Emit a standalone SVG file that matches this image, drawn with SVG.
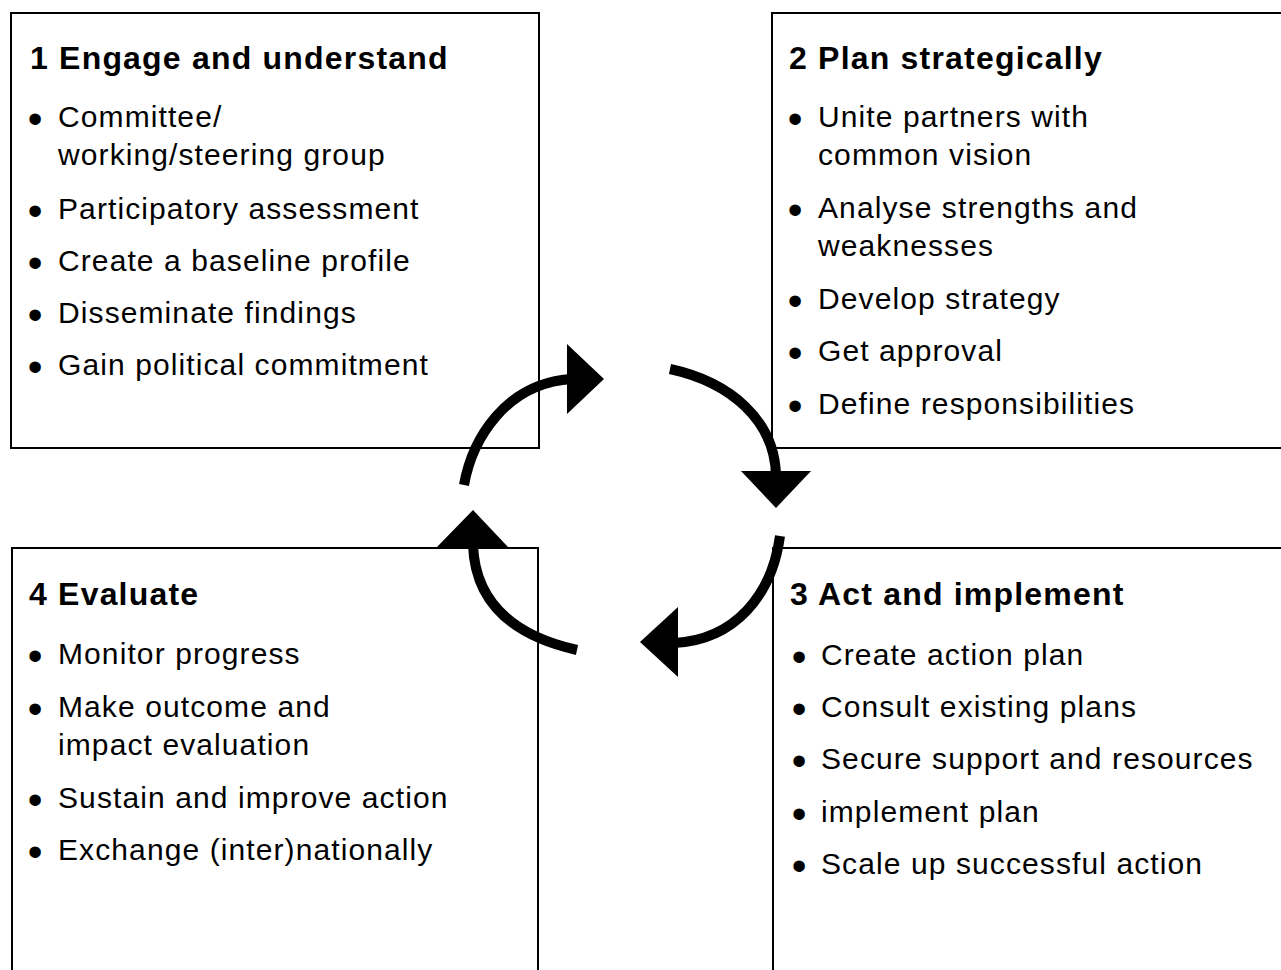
<svg xmlns="http://www.w3.org/2000/svg" width="1281" height="970" viewBox="0 0 1281 970">
  <style>
    .box { fill: #ffffff; stroke: #000000; stroke-width: 2; }
    .title { font-family: "Liberation Sans", Arial, sans-serif; font-weight: bold; font-size: 32px; letter-spacing: 1.2px; fill: #000000; }
    .item { font-family: "Liberation Sans", Arial, sans-serif; font-size: 30px; letter-spacing: 1.1px; fill: #000000; }
    .bul { font-family: "Liberation Sans", Arial, sans-serif; font-size: 42px; fill: #000000; text-anchor: middle; }
    .arc { fill: none; stroke: #000000; stroke-width: 10; stroke-linecap: butt; }
    .head { fill: #000000; stroke: none; }
  </style>

  <!-- Stage 1 -->
  <g id="stage-1-engage">
    <rect class="box" x="11" y="13" width="528" height="435"/>
    <text class="title" x="30" y="69">1 Engage and understand</text>
    <text class="bul" x="35" y="133">•</text>
    <text class="item" x="58" y="127">Committee/</text>
    <text class="item" x="58" y="165">working/steering group</text>
    <text class="bul" x="35" y="225">•</text>
    <text class="item" x="58" y="219">Participatory assessment</text>
    <text class="bul" x="35" y="277">•</text>
    <text class="item" x="58" y="271">Create a baseline profile</text>
    <text class="bul" x="35" y="329">•</text>
    <text class="item" x="58" y="323">Disseminate findings</text>
    <text class="bul" x="35" y="381">•</text>
    <text class="item" x="58" y="375">Gain political commitment</text>
  </g>

  <!-- Stage 2 -->
  <g id="stage-2-plan">
    <rect class="box" x="772" y="13" width="520" height="435"/>
    <text class="title" x="789" y="69">2 Plan strategically</text>
    <text class="bul" x="795" y="133">•</text>
    <text class="item" x="818" y="127">Unite partners with</text>
    <text class="item" x="818" y="165">common vision</text>
    <text class="bul" x="795" y="224">•</text>
    <text class="item" x="818" y="218">Analyse strengths and</text>
    <text class="item" x="818" y="256">weaknesses</text>
    <text class="bul" x="795" y="315">•</text>
    <text class="item" x="818" y="309">Develop strategy</text>
    <text class="bul" x="795" y="367">•</text>
    <text class="item" x="818" y="361">Get approval</text>
    <text class="bul" x="795" y="420">•</text>
    <text class="item" x="818" y="414">Define responsibilities</text>
  </g>

  <!-- Stage 3 -->
  <g id="stage-3-act">
    <rect class="box" x="773" y="548" width="520" height="440"/>
    <text class="title" x="790" y="605">3 Act and implement</text>
    <text class="bul" x="799" y="671">•</text>
    <text class="item" x="821" y="665">Create action plan</text>
    <text class="bul" x="799" y="723">•</text>
    <text class="item" x="821" y="717">Consult existing plans</text>
    <text class="bul" x="799" y="775">•</text>
    <text class="item" x="821" y="769">Secure support and resources</text>
    <text class="bul" x="799" y="828">•</text>
    <text class="item" x="821" y="822">implement plan</text>
    <text class="bul" x="799" y="880">•</text>
    <text class="item" x="821" y="874">Scale up successful action</text>
  </g>

  <!-- Stage 4 -->
  <g id="stage-4-evaluate">
    <rect class="box" x="12" y="548" width="526" height="440"/>
    <text class="title" x="29" y="605">4 Evaluate</text>
    <text class="bul" x="35" y="670">•</text>
    <text class="item" x="58" y="664">Monitor progress</text>
    <text class="bul" x="35" y="723">•</text>
    <text class="item" x="58" y="717">Make outcome and</text>
    <text class="item" x="58" y="755">impact evaluation</text>
    <text class="bul" x="35" y="814">•</text>
    <text class="item" x="58" y="808">Sustain and improve action</text>
    <text class="bul" x="35" y="866">•</text>
    <text class="item" x="58" y="860">Exchange (inter)nationally</text>
  </g>

  <!-- Cycle arrows between the stages -->
  <g id="connectors">
    <path class="arc" d="M464,485 C472,440 505,383 572,379"/>
    <polygon class="head" points="567,344 604,379 567,414"/>

    <path class="arc" d="M670,369 C730,382 775,420 776,476"/>
    <polygon class="head" points="741,471 811,471 776,508"/>

    <path class="arc" d="M780,536 C772,595 735,640 674,643"/>
    <polygon class="head" points="678,607 678,677 640,642"/>

    <path class="arc" d="M577,650 C510,635 475,600 473,545"/>
    <polygon class="head" points="437,547 508,547 473,510"/>
  </g>
</svg>
